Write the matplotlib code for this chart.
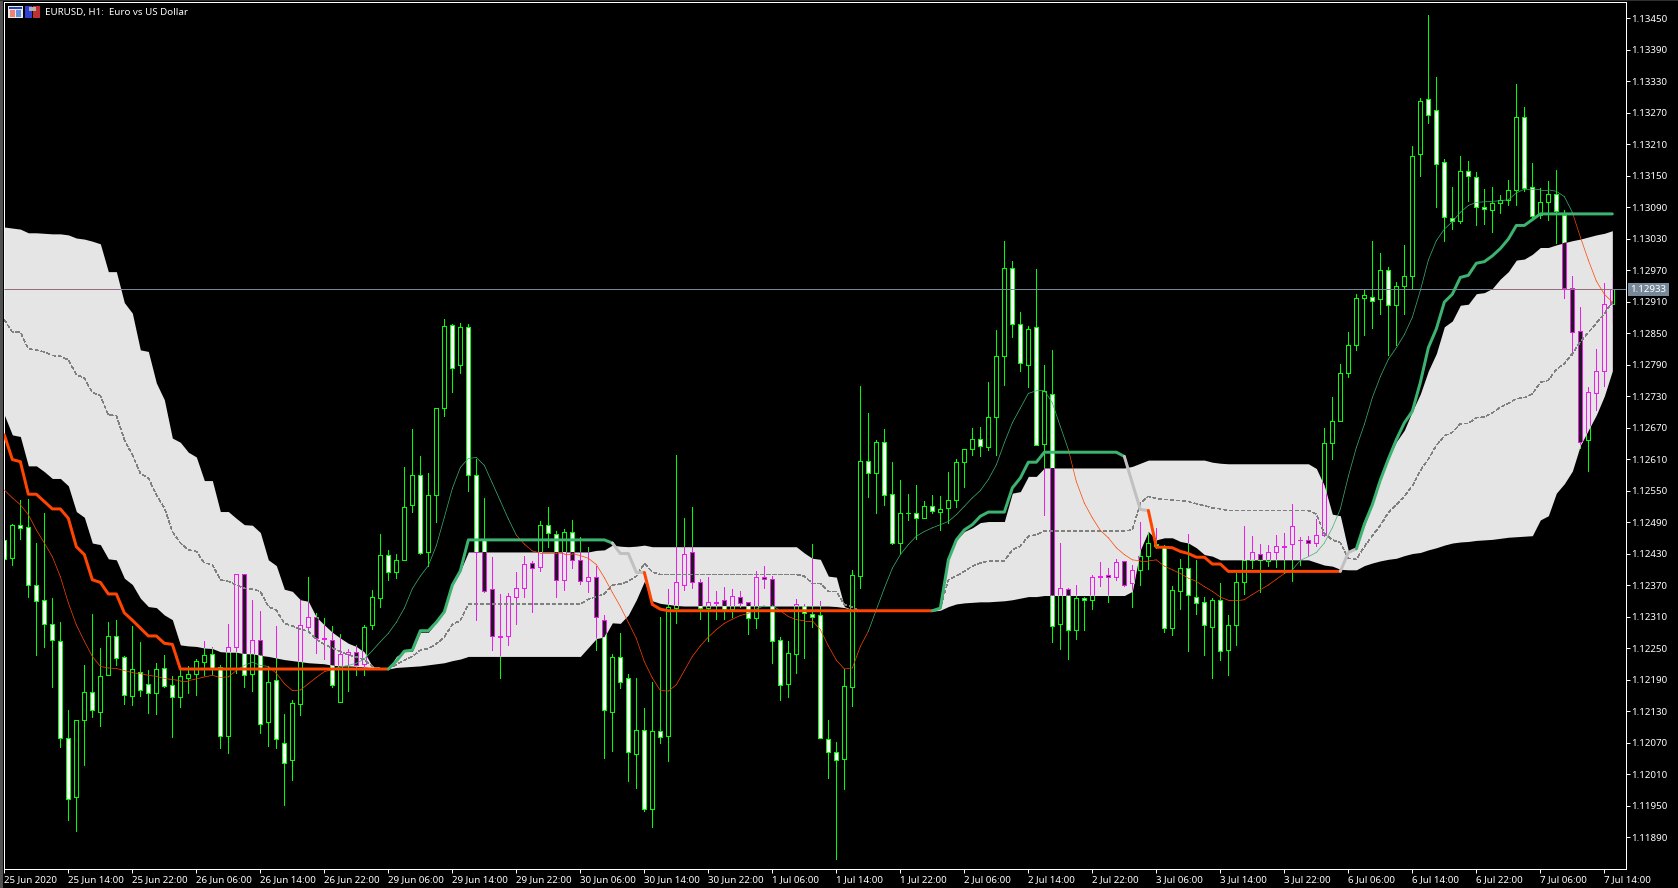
import numpy as np
import matplotlib
matplotlib.use('Agg')
import matplotlib.pyplot as plt
from matplotlib.patches import Rectangle

# all prices below are in 1e-5 units (points)
opens = [112455,112422,112484,112480,112371,112341,112295,112264,112078,111966,112113,112167,112128,112198,112273,112232,112158,112205,112181,112164,112211,112179,112156,112193,112200,112223,112238,112214,112082,112252,112391,112200,112265,112109,112189,112070,112036,112143,112291,112309,112269,112265,112147,112238,112242,112219,112294,112345,112427,112395,
         112418,112522,112580,112433,112542,112708,112866,112789,112862,112580,112455,112362,112273,112273,112348,112365,112412,112405,112485,112468,112380,112471,112418,112377,112386,112304,112129,112232,112192,112049,112093,111944,112091,112083,112327,112370,112432,112376,112327,112338,112341,112324,112348,112337,112307,112386,112382,112266,112182,112239,
         112331,112314,112312,112077,112051,112038,112175,112387,112606,112583,112642,112543,112450,112507,112507,112498,112520,112509,112516,112532,112604,112629,112648,112632,112690,112806,112974,112867,112789,112862,112638,112734,112295,112362,112284,112345,112341,112385,112390,112385,112415,112374,112398,112425,112449,112445,112288,112359,112402,112348,
         112337,112291,112341,112246,112294,112376,112417,112429,112416,112433,112445,112448,112456,112456,112451,112466,112640,112682,112773,112827,112916,112919,112914,112971,112903,112940,112959,113191,113295,113275,113176,113069,113064,113158,113147,113090,113084,113098,113104,113122,113262,113129,113074,113099,113115,113075,112935,112854,112647,112736,112777,112905]
highs = [112463,112487,112532,112534,112450,112507,112345,112299,112132,112113,112218,112315,112250,112299,112303,112235,112292,112262,112209,112221,112236,112197,112210,112216,112229,112264,112252,112217,112296,112391,112391,112342,112321,112215,112292,112125,112151,112341,112385,112316,112308,112292,112277,112248,112256,112294,112361,112468,112437,112429,
         112594,112668,112615,112584,112708,112877,112868,112870,112868,112611,112535,112423,112352,112354,112394,112426,112415,112492,112518,112472,112477,112494,112462,112443,112407,112312,112239,112278,112200,112192,112135,112186,112310,112363,112618,112497,112518,112382,112386,112358,112366,112363,112358,112337,112396,112407,112387,112271,112263,112343,
         112333,112448,112339,112112,112071,112210,112399,112750,112698,112647,112667,112604,112571,112544,112561,112531,112541,112540,112586,112611,112629,112669,112671,112757,112856,113025,112988,112890,112863,112972,112789,112818,112451,112364,112371,112348,112390,112414,112403,112420,112415,112409,112490,112470,112479,112447,112369,112420,112468,112418,
         112348,112345,112373,112312,112393,112483,112463,112448,112447,112466,112469,112524,112462,112464,112495,112669,112729,112792,112852,112925,112934,113026,113003,112975,112947,113018,113207,113298,113456,113338,113182,113128,113188,113177,113157,113125,113128,113113,113142,113325,113281,113174,113126,113139,113161,113084,112959,112900,112747,112820,112946,112955]
lows = [112415,112409,112457,112348,112237,112251,112175,112061,111922,111902,112028,112118,112101,112198,112218,112143,112141,112158,112127,112125,112176,112080,112137,112165,112160,112198,112201,112059,112050,112202,112175,112169,112089,112064,112059,111951,111998,112123,112282,112240,112230,112176,112147,112169,112198,112198,112287,112329,112379,112383,
        112418,112509,112430,112407,112491,112692,112738,112773,112549,112303,112356,112246,112193,112255,112296,112348,112319,112397,112443,112348,112360,112403,112372,112356,112246,112041,112054,112174,111997,111984,111940,111910,112069,112035,112297,112360,112365,112305,112263,112305,112305,112310,112328,112277,112288,112365,112222,112151,112157,112203,
        112231,112290,112078,112003,111849,111982,112139,112364,112537,112508,112522,112449,112431,112493,112458,112497,112507,112474,112489,112518,112556,112618,112616,112627,112618,112752,112842,112778,112748,112636,112504,112261,112249,112230,112268,112285,112325,112369,112338,112380,112369,112329,112371,112400,112441,112280,112275,112325,112244,112315,
        112237,112192,112228,112199,112256,112352,112402,112357,112406,112405,112392,112377,112408,112428,112444,112464,112610,112682,112766,112818,112847,112860,112886,112809,112827,112887,112935,113150,113250,113091,113026,113048,113059,113102,113055,113057,113042,113078,113094,113094,113120,113069,113069,113066,113022,112916,112808,112631,112587,112704,112750,112870]
closes = [112419,112484,112478,112370,112339,112296,112265,112078,111962,112113,112166,112132,112196,112273,112231,112160,112210,112170,112164,112210,112177,112156,112196,112200,112225,112236,112210,112082,112252,112391,112198,112265,112105,112185,112076,112031,112145,112294,112309,112269,112267,112179,112238,112242,112217,112290,112347,112427,112395,112417,
          112518,112580,112431,112542,112708,112864,112784,112862,112580,112433,112358,112273,112271,112350,112365,112411,112403,112485,112469,112380,112471,112418,112378,112386,112310,112131,112232,112186,112051,112093,111944,112091,112080,112328,112376,112430,112376,112327,112338,112335,112325,112350,112336,112307,112386,112382,112264,112180,112241,112333,
          112316,112310,112078,112051,112037,112178,112389,112606,112583,112642,112541,112451,112507,112507,112498,112521,112511,112515,112532,112604,112629,112648,112635,112690,112806,112974,112867,112793,112858,112637,112740,112292,112364,112284,112345,112341,112385,112388,112385,112414,112371,112399,112425,112450,112445,112288,112360,112402,112351,112336,
          112293,112341,112245,112294,112376,112417,112432,112417,112433,112445,112443,112482,112456,112450,112465,112640,112682,112773,112827,112916,112922,112912,112970,112904,112940,112959,113187,113293,113266,113172,113071,113064,113158,113149,113091,113086,113097,113104,113122,113262,113127,113073,113099,113115,113083,112935,112852,112643,112737,112777,112905,112934]

cloud_top = [113052,113050,113048,113041,113041,113040,113039,113039,113037,113031,113029,113025,113020,112967,112967,112908,112888,112818,112815,112755,112723,112650,112642,112623,112614,112569,112569,112510,112510,112497,112485,112484,112470,112418,112407,112362,112358,112342,112339,112309,112294,112280,112269,112259,112253,112242,112215,112212,112210,112234,
             112244,112244,112280,112280,112299,112322,112370,112397] + [112433]*16 + [112436,112437,112446,112444,112443,112444,112446,112443] + [112443]*18 + [112431,112421,112419,112387,112385,112329,112323] + [112320]*10 + \
            [112329,112421,112456,112472,112479,112489,112491,112491,112491,112545,112548,112577,112577] + [112593]*11 + [112596,112602] + [112608]*8 + [112604,112602] + [112601]*11 + \
            [112592,112559,112505,112502,112435,112441,112483,112523,112570,112610,112643,112665,112701,112734,112778,112811,112862,112873,112903,112905,112925,112927,112935,112953,112967,112989,112991,113000,113013,113013,113018,113022,113026,113029,113033,113037,113040,113045]
cloud_bot = [112694,112656,112653,112597,112597,112586,112573,112573,112559,112510,112499,112450,112447,112420,112418,112383,112371,112345,112329,112327,112313,112304,112256,112254,112253,112250,112249,112243,112242,112242,112239,112239,112236,112234,112231,112228,112226,112224,112222,112221,112220,112217,112216,112216,112215,112214,112212,112211,112210,112213,
             112214,112215,112216,112218,112220,112222,112226,112229] + [112234]*15 + [112251,112268,112271,112298,112297,112313,112342,112377,112340,112335,112333,112331,112330] + [112330]*18 + [112329,112327,112323] + [112320]*10 + \
            [112322,112329,112334,112336,112337,112338,112338,112339,112340,112342,112345,112348,112348] + [112350]*11 + [112358,112437,112472,112456,112460,112460,112453,112450,112441,112428,112425] + [112418]*12 + \
            [112413,112408,112406,112400,112399,112399,112407,112412,112416,112419,112421,112426,112430,112432,112437,112441,112446,112450,112452,112453,112455,112456,112457,112459,112461,112462,112463,112464,112494,112502,112545,112563,112587,112636,112665,112694,112730,112778]
cloud_mid = [112875,112852,112852,112820,112818,112814,112807,112806,112799,112771,112764,112737,112731,112694,112693,112647,112618,112583,112574,112542,112517,112472,112450,112437,112434,112412,112409,112380,112377,112370,112364,112362,112358,112329,112322,112297,112292,112286,112282,112266,112257,112250,112243,112237,112233,112228,112215,112211,112210,112218,
             112227,112234,112246,112249,112258,112271,112295,112302] + [112334]*15 + [112343,112348,112353,112370,112372,112377,112387,112411,112395,112390] + [112390]*17 + [112387,112373,112373,112358,112358,112333,112328] + [112320]*10 + \
            [112326,112380,112387,112396,112406,112412,112416,112416,112416,112437,112444,112463,112466] + [112473]*11 + [112475,112526,112539,112535,112533,112532,112531,112529,112525,112521,112517,112515] + [112512]*11 + \
            [112505,112468,112456,112451,112421,112419,112443,112464,112483,112508,112523,112539,112559,112588,112610,112636,112654,112661,112677,112678,112689,112690,112698,112709,112716,112725,112727,112734,112756,112760,112781,112792,112811,112833,112851,112869,112887,112909]

slow_line = [112656,112609,112605,112543,112543,112529,112515,112515,112497,112443,112428,112380,112375,112353,112353,112317,112303,112288,112273,112273,112259,112257] + [112210]*27 + \
            [112225,112244,112246,112283,112283,112299,112319,112370,112397] + [112456]*18 + [112450,112430,112430,112394,112394,112333,112324] + [112321]*34 + \
            [112326,112418,112456,112475,112485,112501,112509,112509,112509,112555,112574,112604,112604] + [112623]*10 + [112615,112564,112514,112512,112442,112442,112441,112434,112430,112423,112423,112410,112410] + [112396]*15 + \
            [112432,112439,112486,112523,112570,112610,112647,112679,112701,112756,112822,112858,112909,112924,112956,112960,112983,112986,112997,113011,113029,113055,113055,113066] + [113077]*10
fast_line = [112551,112536,112523,112504,112475,112450,112424,112386,112336,112294,112263,112234,112215,112212,112211,112207,112203,112201,112198,112196,112192,112190,112188,112188,112191,112195,112198,112194,112195,112207,112217,112223,112217,112215,112202,112182,112169,112170,112182,112194,112205,112209,112214,112217,112221,112229,112245,112262,112278,112299,
             112326,112363,112387,112407,112445,112499,112554,112594,112611,112613,112598,112564,112530,112496,112465,112448,112435,112431,112431,112431,112430,112430,112426,112421,112409,112384,112356,112329,112299,112268,112224,112193,112169,112168,112180,112207,112234,112254,112271,112285,112297,112305,112312,112316,112324,112331,112331,112321,112310,112304,
             112302,112302,112285,112254,112227,112210,112212,112253,112282,112323,112364,112402,112428,112447,112463,112472,112479,112485,112491,112504,112520,112536,112550,112571,112599,112641,112679,112707,112735,112740,112741,112717,112672,112628,112567,112526,112498,112474,112460,112441,112428,112418,112416,112416,112418,112406,112399,112392,112383,112377,
             112367,112358,112347,112341,112340,112342,112352,112361,112370,112381,112392,112399,112417,112424,112432,112450,112479,112515,112577,112632,112676,112727,112767,112800,112822,112847,112880,112931,112989,113026,113048,113062,113080,113093,113099,113100,113101,113102,113104,113117,113124,113124,113123,113123,113120,113110,113080,113033,112989,112949,112924,112909]

# colour runs of the slow line: bar where each run ends
slow_breaks = [48, 76, 80, 116, 140, 143, 167, 169, 201]
slow_colors = ['#FF4500', '#3CB371', '#C0C0C0', '#FF4500', '#3CB371', '#C0C0C0', '#FF4500', '#C0C0C0', '#3CB371']

price_ticks = [1.11890,1.11950,1.12010,1.12070,1.12130,1.12190,1.12250,1.12310,1.12370,1.12430,1.12490,1.12550,1.12610,1.12670,1.12730,1.12790,1.12850,1.12910,1.12970,1.13030,1.13090,1.13150,1.13210,1.13270,1.13330,1.13390,1.13450]
time_labels = ['25 Jun 2020','25 Jun 14:00','25 Jun 22:00','26 Jun 06:00','26 Jun 14:00','26 Jun 22:00','29 Jun 06:00','29 Jun 14:00','29 Jun 22:00','30 Jun 06:00','30 Jun 14:00','30 Jun 22:00','1 Jul 06:00','1 Jul 14:00','1 Jul 22:00','2 Jul 06:00','2 Jul 14:00','2 Jul 22:00','3 Jul 06:00','3 Jul 14:00','3 Jul 22:00','6 Jul 06:00','6 Jul 14:00','6 Jul 22:00','7 Jul 06:00','7 Jul 14:00']
last_price = 1.12933

WIDTH, HEIGHT = 1678, 888
PX = 72 / 100  # one pixel in points

plt.rcParams['font.family'] = ['Noto Sans', 'DejaVu Sans']
plt.rcParams['font.size'] = 7

fig = plt.figure(figsize=(WIDTH / 100, HEIGHT / 100), dpi=100, facecolor='black')
ax = fig.add_axes([3.5 / WIDTH, 1 - 868.5 / HEIGHT, 1622 / WIDTH, 866 / HEIGHT], facecolor='black')

o = np.array(opens) / 1e5
h = np.array(highs) / 1e5
l = np.array(lows) / 1e5
c = np.array(closes) / 1e5
x = np.arange(len(o))
top = np.maximum(o, c)
bot = np.minimum(o, c)
up = c >= o


def draw_candles(line_col, up_col, down_col, z, clip=None):
    wicks = ax.vlines(x, l, h, colors=line_col, linewidth=PX, antialiased=False, zorder=z)
    fills = [up_col if u else down_col for u in up]
    bars = ax.bar(x, top - bot, bottom=bot, width=0.5, color=fills, edgecolor=line_col,
                  linewidth=PX, antialiased=False, zorder=z + 0.1)
    if clip is not None:
        wicks.set_clip_path(clip, ax.transData)
        for b in bars:
            b.set_clip_path(clip, ax.transData)


CLOUD = '#E5E5E5'
draw_candles('#00FF00', 'black', 'white', 2)
ax.axhline(last_price, color='#778899', linewidth=PX, antialiased=False, zorder=2.5)

cloud = ax.fill_between(x, np.array(cloud_bot) / 1e5, np.array(cloud_top) / 1e5, color=CLOUD,
                        linewidth=0, antialiased=False, zorder=3)
cloud_path = cloud.get_paths()[0]

# the terminal paints the cloud in XOR, so candles swap colours inside it
draw_candles('#EC1CEC', CLOUD, '#1B1B1B', 4, clip=cloud_path)
inner_line = ax.axhline(last_price, color='#936C7D', linewidth=PX, antialiased=False, zorder=4.5)
inner_line.set_clip_path(cloud_path, ax.transData)

ax.plot(x, np.array(cloud_mid) / 1e5, color='#808080', linewidth=0.3, linestyle=(0, (9, 7)),
        antialiased=False, zorder=5)

fast = np.array(fast_line) / 1e5
slow = np.array(slow_line) / 1e5
for i in range(len(x) - 1):
    col = '#3CB371' if fast[i + 1] >= slow[i + 1] else '#FF4500'
    ax.plot(x[i:i + 2], fast[i:i + 2], color=col, linewidth=0.5, antialiased=True, zorder=6)

start = 0
for end, col in zip(slow_breaks, slow_colors):
    ax.plot(x[start:end + 1], slow[start:end + 1], color=col, linewidth=3 * PX,
            solid_joinstyle='round', solid_capstyle='round', zorder=7)
    start = end

ax.set_xlim(-0.105, 202.645)
ax.set_ylim(1.118300, 1.134797)

ax.set_xticks(x[::8])
ax.set_xticklabels(time_labels, ha='left', color='white')
ax.set_yticks(price_ticks)
ax.set_yticklabels(['%.5f' % p for p in price_ticks], color='white')
ax.yaxis.tick_right()
ax.tick_params(axis='x', colors='white', length=4 * PX, width=PX, pad=2)
ax.tick_params(axis='y', colors='white', length=4 * PX, width=PX, pad=1)
for s in ax.spines.values():
    s.set_color('white')
    s.set_linewidth(PX)

# last price tag on the price scale
ax.annotate('%.5f' % last_price, xy=(1, last_price), xycoords=('axes fraction', 'data'),
            xytext=(5 * PX, 0), textcoords='offset points', va='center', ha='left', color='white',
            bbox=dict(boxstyle='square,pad=0.25', fc='#778899', ec='none'), annotation_clip=False, zorder=9)


def px_rect(left, top_px, w, h_px, col):
    fig.add_artist(Rectangle((left / WIDTH, 1 - (top_px + h_px) / HEIGHT), w / WIDTH, h_px / HEIGHT,
                             transform=fig.transFigure, facecolor=col, edgecolor='none', zorder=10))


# window edge
px_rect(0, 0, 3, HEIGHT, '#505050')
px_rect(0, 0, WIDTH, 1, '#303030')

# two little window icons in front of the title
px_rect(8, 6, 15, 12, '#E8E8E8')
px_rect(9, 7, 13, 2, '#2040C0')
px_rect(10, 10, 5, 7, '#F08070')
px_rect(16, 10, 5, 7, '#6090E0')
px_rect(25, 6, 7, 12, '#3040D0')
px_rect(33, 6, 7, 12, '#C03030')
px_rect(29, 7, 7, 4, '#B0B0B0')

fig.text(45 / WIDTH, 1 - 12.5 / HEIGHT, 'EURUSD, H1:  Euro vs US Dollar', color='white', va='center', ha='left')

fig.savefig('out.png', dpi=100, facecolor='black')
